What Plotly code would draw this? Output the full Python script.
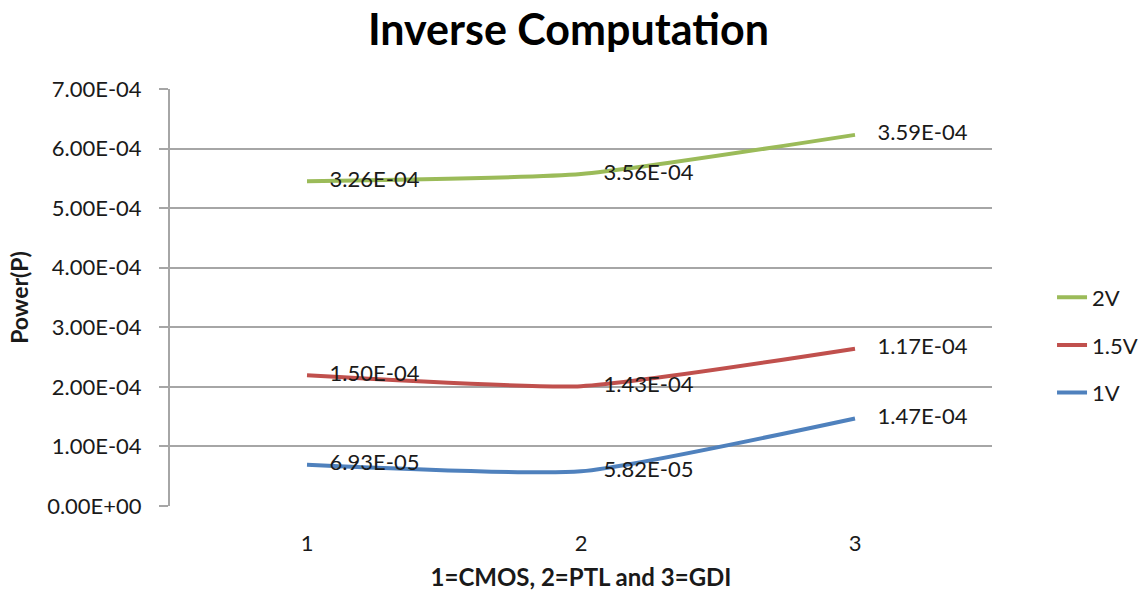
import plotly.graph_objects as go

# Inverse computation power per logic style (stacked line series)
categories = [1, 2, 3]
series_names = ["1V", "1.5V", "2V"]
power_1v = [6.93e-05, 5.82e-05, 1.47e-04]
power_1_5v = [1.50e-04, 1.43e-04, 1.17e-04]
power_2v = [3.26e-04, 3.56e-04, 3.59e-04]
y_ticks = [0, 1e-4, 2e-4, 3e-4, 4e-4, 5e-4, 6e-4, 7e-4]

colors = {"1V": "#4f81bd", "1.5V": "#c0504d", "2V": "#9bbb59"}
legend_rank = {"2V": 1, "1.5V": 2, "1V": 3}
FONT = "Lato, 'Open Sans', sans-serif"
TXT = "#1a1a1a"
PAD = "\u00a0\u00a0\u00a0\u00a0"

fig = go.Figure()
for name, vals in zip(series_names, [power_1v, power_1_5v, power_2v]):
    fig.add_trace(go.Scatter(
        x=categories, y=vals, name=name,
        stackgroup="power", fill="none",
        mode="lines+text",
        line=dict(color=colors[name], width=4, shape="spline", smoothing=0.5),
        text=[PAD + f"{v:.2E}" for v in vals],
        textposition="middle right",
        textfont=dict(family=FONT, size=22, color=TXT),
        legendgroup=name,
        legendrank=legend_rank[name],
        cliponaxis=False,
    ))

fig.update_layout(
    width=1146, height=595,
    margin=dict(l=170, r=154, t=89, b=89, autoexpand=False),
    paper_bgcolor="white", plot_bgcolor="white",
    title=dict(text="<b>Inverse Computation</b>", x=0.496, xanchor="center",
               y=0.95, yanchor="middle",
               font=dict(family=FONT, size=43, color="black")),
    showlegend=True,
    legend=dict(xref="container", x=0.918, xanchor="left",
                y=0.386, yanchor="middle", bgcolor="rgba(0,0,0,0)",
                traceorder="grouped", tracegroupgap=16,
                font=dict(family=FONT, size=22, color=TXT)),
    font=dict(family=FONT, color=TXT),
)

fig.update_xaxes(
    range=[0.5, 3.5], tickvals=categories, ticktext=[str(c) for c in categories],
    showgrid=False, zeroline=False, showline=False, ticks="",
    ticklabelstandoff=22, automargin=False,
    tickfont=dict(family=FONT, size=22, color=TXT),
    title=dict(text="<b>1=CMOS, 2=PTL and 3=GDI</b>", standoff=14,
               font=dict(family=FONT, size=24, color=TXT)),
)
fig.update_yaxes(
    range=[0, 7e-4], tickvals=y_ticks, ticktext=[f"{v:.2E}" for v in y_ticks],
    showgrid=True, gridcolor="#a6a6a6", gridwidth=2,
    zeroline=False, showline=True, linecolor="#a6a6a6", linewidth=2,
    ticks="outside", ticklen=9, tickcolor="#a6a6a6", tickwidth=2,
    ticklabelstandoff=13, automargin=False,
    tickfont=dict(family=FONT, size=22, color=TXT),
    title=dict(text="<b>Power(P)</b>", standoff=12,
               font=dict(family=FONT, size=23, color=TXT)),
)

fig.write_html("out.html")
